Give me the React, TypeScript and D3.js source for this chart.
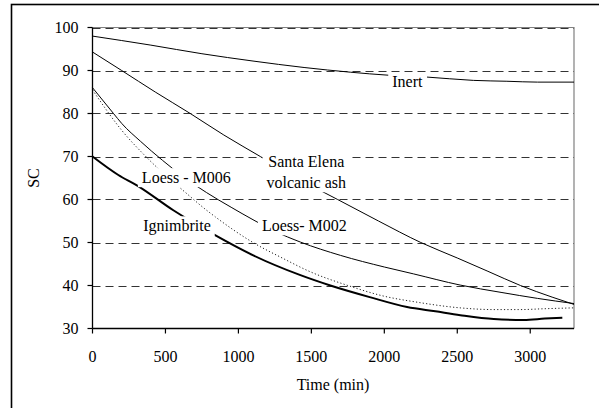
import React, { useEffect, useRef } from "react";
import * as d3 from "d3";

const xTicks = [0, 500, 1000, 1500, 2000, 2500, 3000];
const yTicks = [30, 40, 50, 60, 70, 80, 90, 100];
const gridValues = [40, 50, 60, 70, 80, 90, 100];

const inertT = [0, 400, 750, 1100, 1450, 1770, 2030, 2280, 2610, 2840, 3050, 3300];
const inertV = [98, 95.9, 93.9, 92.2, 90.7, 89.6, 88.9, 88.5, 87.7, 87.5, 87.3, 87.3];

const santaT = [0, 200, 430, 670, 900, 1150, 1400, 1680, 1960, 2250, 2500, 2710, 2933, 3150, 3300];
const santaV = [94.3, 90, 85, 80, 75, 70, 65, 60, 55, 50, 46.4, 43.3, 40, 37.3, 35.6];

const m002T = [0, 144, 200, 330, 480, 630, 782, 950, 1100, 1250, 1425, 1700, 2000, 2200, 2520, 2800, 3050, 3300];
const m002V = [86, 80, 77.7, 73.5, 69.1, 65.1, 61.6, 58.2, 55.3, 52.6, 50.1, 47, 44.3, 42.7, 40.1, 38.4, 37, 35.8];

const m006T = [0, 200, 380, 645, 782, 840, 1100, 1300, 1492, 1750, 2000, 2210, 2520, 2750, 2930, 3100, 3300];
const m006V = [85.5, 76.1, 69.5, 61.4, 57.5, 56, 50, 46.4, 43.2, 40, 37.5, 36.2, 34.8, 34.4, 34.4, 34.6, 34.8];

const ignT = [0, 177, 304, 554, 840, 1102, 1425, 1630, 1900, 2156, 2350, 2521, 2750, 2956, 3100, 3220];
const ignV = [70, 65.7, 63.3, 57.5, 51.7, 47, 42.4, 40, 37.3, 35, 34, 33.1, 32.2, 32, 32.3, 32.5];

const labelTexts = [["Inert"], ["Santa Elena", "volcanic ash"], ["Loess - M006"], ["Ignimbrite"], ["Loess- M002"]];
const labelT = [2158, 1465, 643, 579, 1452];
const labelV = [86.1, 67.5, 63.8, 52.6, 52.6];

const FONT = '"Liberation Serif", "Times New Roman", Times, "DejaVu Serif", serif';

export default function App() {
  const ref = useRef<SVGSVGElement>(null);
  useEffect(() => {
    const svg = d3.select(ref.current);
    svg.selectAll("*").remove();
    const x = d3.scaleLinear().domain([0, 3300]).range([92.5, 574]);
    const y = d3.scaleLinear().domain([30, 100]).range([328.5, 27.5]);

    svg.append("rect").attr("x", 11.5).attr("y", 4.5).attr("width", 620).attr("height", 430)
      .attr("fill", "white").attr("stroke", "#000").attr("stroke-width", 1.6);

    svg.append("path").attr("d", `M${x(0)},${y(100)}H${x(3300)}V${y(30)}`)
      .attr("fill", "none").attr("stroke", "#808080").attr("stroke-width", 1.2);

    svg.append("g").selectAll("line").data(gridValues).join("line")
      .attr("x1", x(0)).attr("x2", x(3300))
      .attr("y1", (d) => Math.round(y(d)) + 0.5).attr("y2", (d) => Math.round(y(d)) + 0.5)
      .attr("stroke", "#333").attr("stroke-width", 1).attr("stroke-dasharray", "8,5");

    const line = (ts: number[], vs: number[]) =>
      d3.line<number>().x((_, i) => x(ts[i])).y((_, i) => y(vs[i])).curve(d3.curveMonotoneX)(ts);

    const series = [
      { t: inertT, v: inertV, w: 1, dash: null, color: "#000" },
      { t: santaT, v: santaV, w: 1, dash: null, color: "#000" },
      { t: m002T, v: m002V, w: 1, dash: null, color: "#000" },
      { t: m006T, v: m006V, w: 1, dash: "1.2,2.2", color: "#222" },
      { t: ignT, v: ignV, w: 2, dash: null, color: "#000" },
    ];
    series.forEach((s) => {
      const p = svg.append("path").attr("d", line(s.t, s.v) as string).attr("fill", "none")
        .attr("stroke", s.color).attr("stroke-width", s.w);
      if (s.dash) p.attr("stroke-dasharray", s.dash);
    });

    labelTexts.forEach((lines, i) => {
      const g = svg.append("g");
      const rect = g.append("rect").attr("fill", "white");
      const txt = g.append("text").style("font-family", FONT).style("font-size", "16px")
        .attr("text-anchor", "middle").attr("fill", "#000");
      lines.forEach((l, j) => {
        txt.append("tspan").attr("x", x(labelT[i])).attr("y", y(labelV[i]) + j * 21).text(l);
      });
      const bb = (txt.node() as SVGTextElement).getBBox();
      rect.attr("x", bb.x - 4).attr("y", bb.y - 1).attr("width", bb.width + 8).attr("height", bb.height + 2);
    });

    svg.append("line").attr("x1", x(0)).attr("x2", x(0)).attr("y1", y(100)).attr("y2", y(30))
      .attr("stroke", "#000").attr("stroke-width", 1.3);
    svg.append("line").attr("x1", x(0)).attr("x2", x(3300)).attr("y1", y(30)).attr("y2", y(30))
      .attr("stroke", "#000").attr("stroke-width", 1.3);

    const yg = svg.append("g");
    yTicks.forEach((t) => {
      yg.append("line").attr("x1", x(0) - 5).attr("x2", x(0)).attr("y1", y(t)).attr("y2", y(t))
        .attr("stroke", "#000").attr("stroke-width", 1.2);
      yg.append("text").attr("x", 78.5).attr("y", y(t) + 5).attr("text-anchor", "end")
        .style("font-family", FONT).style("font-size", "16px").text(String(t));
    });
    const xg = svg.append("g");
    xTicks.forEach((t) => {
      xg.append("line").attr("x1", x(t)).attr("x2", x(t)).attr("y1", y(30)).attr("y2", y(30) + 5)
        .attr("stroke", "#000").attr("stroke-width", 1.2);
      xg.append("text").attr("x", x(t)).attr("y", 361.5).attr("text-anchor", "middle")
        .style("font-family", FONT).style("font-size", "16px").text(String(t));
    });

    svg.append("text").attr("x", 333).attr("y", 390).attr("text-anchor", "middle")
      .style("font-family", FONT).style("font-size", "16px").text("Time (min)");
    svg.append("text").attr("transform", `translate(39,178) rotate(-90)`).attr("text-anchor", "middle")
      .style("font-family", FONT).style("font-size", "16px").text("SC");
  }, []);

  return (
    <svg ref={ref} width={599} height={408}
      style={{ position: "absolute", left: 0, top: 0, background: "white" }} />
  );
}
